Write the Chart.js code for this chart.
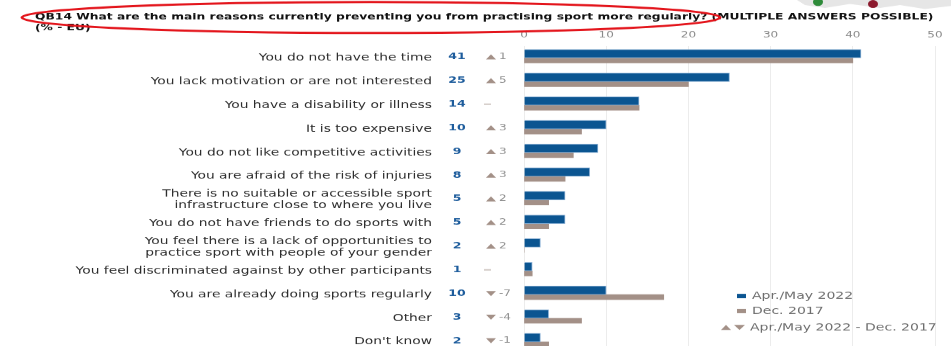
<!DOCTYPE html>
<html>
<head>
<meta charset="utf-8">
<script src="https://cdn.jsdelivr.net/npm/chart.js@4"></script>
<style>
  html, body { margin: 0; padding: 0; background: #fff; overflow: hidden; }
  #wrap { width: 951px; height: 346px; overflow: hidden; }
  /* the slide is stretched wide, so the chart is drawn tall and squeezed */
  #inner { width: 951px; height: 500px; transform: scaleY(0.72); transform-origin: 0 0; }
</style>
</head>
<body>
<div id="wrap"><div id="inner"><canvas id="chart" width="951" height="500"></canvas></div></div>
<script>
  const SQUASH = 0.72;
  const FONT = "'DejaVu Sans', Verdana, sans-serif";

  const reasons = [
    'You do not have the time',
    'You lack motivation or are not interested',
    'You have a disability or illness',
    'It is too expensive',
    'You do not like competitive activities',
    'You are afraid of the risk of injuries',
    ['There is no suitable or accessible sport', 'infrastructure close to where you live'],
    'You do not have friends to do sports with',
    ['You feel there is a lack of opportunities to', 'practice sport with people of your gender'],
    'You feel discriminated against by other participants',
    'You are already doing sports regularly',
    'Other',
    "Don't know"
  ];
  const apr2022 = [41, 25, 14, 10, 9, 8, 5, 5, 2, 1, 10, 3, 2];
  const dec2017 = [40, 20, 14, 7, 6, 5, 3, 3, 0, 1, 17, 7, 3];
  const change = [1, 5, 0, 3, 3, 3, 2, 2, 2, 0, -7, -4, -1];
  const xTicks = [0, 10, 20, 30, 40, 50];

  const title = 'QB14 What are the main reasons currently preventing you from practising sport more regularly? (MULTIPLE ANSWERS POSSIBLE)';
  const subtitle = '(% - EU)';
  const legendItems = ['Apr./May 2022', 'Dec. 2017', 'Apr./May 2022 - Dec. 2017'];

  const BLUE = '#0b5591';
  const TAUPE = '#a39087';

  // y in screen pixels -> canvas pixels
  const sy = (y) => y / SQUASH;

  function tri(ctx, x, y, w, h, up) {
    ctx.beginPath();
    if (up) {
      ctx.moveTo(x, y + h / 2); ctx.lineTo(x + w, y + h / 2); ctx.lineTo(x + w / 2, y - h / 2);
    } else {
      ctx.moveTo(x, y - h / 2); ctx.lineTo(x + w, y - h / 2); ctx.lineTo(x + w / 2, y + h / 2);
    }
    ctx.closePath();
    ctx.fill();
  }

  const slideExtras = {
    id: 'slideExtras',
    afterDraw(chart) {
      const ctx = chart.ctx;
      const yScale = chart.scales.y;
      ctx.save();

      // bit of the map in the corner
      ctx.fillStyle = '#e6e6e6';
      ctx.beginPath();
      ctx.moveTo(797, 0); ctx.lineTo(951, 0); ctx.lineTo(951, sy(6));
      ctx.lineTo(925, sy(9)); ctx.lineTo(900, sy(5)); ctx.lineTo(880, sy(8));
      ctx.lineTo(850, sy(4)); ctx.lineTo(825, sy(8)); ctx.lineTo(805, sy(5));
      ctx.closePath();
      ctx.fill();
      ctx.fillStyle = '#2e8b3a';
      ctx.beginPath(); ctx.ellipse(818, sy(2), 5, sy(4), 0, 0, Math.PI * 2); ctx.fill();
      ctx.fillStyle = '#8c1a2e';
      ctx.beginPath(); ctx.ellipse(873, sy(4), 5, sy(4), 0, 0, Math.PI * 2); ctx.fill();

      // question title
      ctx.fillStyle = '#111';
      ctx.textAlign = 'left';
      ctx.textBaseline = 'middle';
      ctx.font = `bold 12.3px ${FONT}`;
      ctx.fillText(title, 35, sy(17));
      ctx.fillText(subtitle, 35, sy(28));

      // red ellipse around the question
      ctx.strokeStyle = '#e3141b';
      ctx.lineWidth = 3;
      ctx.beginPath();
      ctx.ellipse(371, sy(17.5), 349, sy(15.5), 0, 0, Math.PI * 2);
      ctx.stroke();

      // 2022 values and change since 2017
      reasons.forEach((r, i) => {
        const y = yScale.getPixelForValue(i) - 1.5;
        ctx.font = `bold 12.5px ${FONT}`;
        ctx.fillStyle = '#1d5c9c';
        ctx.textAlign = 'center';
        ctx.fillText(String(apr2022[i]), 457, y);

        const d = change[i];
        ctx.textAlign = 'left';
        ctx.font = `12px ${FONT}`;
        if (d === 0) {
          ctx.strokeStyle = '#cfc7c2';
          ctx.lineWidth = 2;
          ctx.beginPath(); ctx.moveTo(484, y); ctx.lineTo(491, y); ctx.stroke();
        } else {
          ctx.fillStyle = TAUPE;
          tri(ctx, 486, y, 10, 7, d > 0);
          ctx.fillStyle = '#8f8f8f';
          ctx.fillText(String(d), 499, y);
        }
      });

      // legend
      ctx.font = `14px ${FONT}`;
      ctx.textAlign = 'left';
      ctx.fillStyle = BLUE;
      ctx.fillRect(737, sy(296) - 3, 9, 6);
      ctx.fillStyle = TAUPE;
      ctx.fillRect(737, sy(311) - 3, 9, 6);
      tri(ctx, 721, sy(327.5), 10, 7, true);
      tri(ctx, 734, sy(327.5), 11, 7, false);
      ctx.fillStyle = '#6e6e6e';
      ctx.fillText(legendItems[0], 752, sy(296));
      ctx.fillText(legendItems[1], 752, sy(311));
      ctx.fillText(legendItems[2], 750, sy(327.5));

      ctx.restore();
    }
  };

  new Chart(
    document.getElementById('chart'),
    {
      type: 'bar',
      data: {
        labels: reasons,
        datasets: [
          {
            label: legendItems[0],
            data: apr2022,
            backgroundColor: BLUE,
            borderColor: '#8fb3d6',
            borderWidth: 1,
            barThickness: 12
          },
          {
            label: legendItems[1],
            data: dec2017,
            backgroundColor: TAUPE,
            borderWidth: 0,
            barThickness: 7
          }
        ]
      },
      options: {
        indexAxis: 'y',
        responsive: false,
        animation: false,
        devicePixelRatio: 1,
        layout: {
          padding: { left: 0, right: 16, top: 0, bottom: 8.7 }
        },
        plugins: {
          legend: { display: false },
          title: { display: false },
          tooltip: { enabled: false }
        },
        scales: {
          x: {
            position: 'top',
            min: xTicks[0],
            max: xTicks[xTicks.length - 1],
            afterBuildTicks: (scale) => {
              scale.ticks = xTicks.map(v => ({ value: v }));
            },
            afterFit: (scale) => { scale.height = 64.1; },
            ticks: {
              color: '#8a8a8a',
              padding: 8,
              font: { family: FONT, size: 12 }
            },
            grid: { color: '#ececec', drawTicks: false },
            border: { display: false }
          },
          y: {
            // the wide label padding must not push the plot area down
            afterFit: (scale) => {
              scale.width = 524;
              scale.paddingTop = 0;
              scale.paddingBottom = 0;
            },
            ticks: {
              autoSkip: false,
              color: '#2e2e2e',
              padding: 92,
              font: { family: FONT, size: 13.8, lineHeight: 1.15 }
            },
            grid: { display: false, drawTicks: false },
            border: { display: false }
          }
        }
      },
      plugins: [slideExtras]
    }
  );
</script>
</body>
</html>
